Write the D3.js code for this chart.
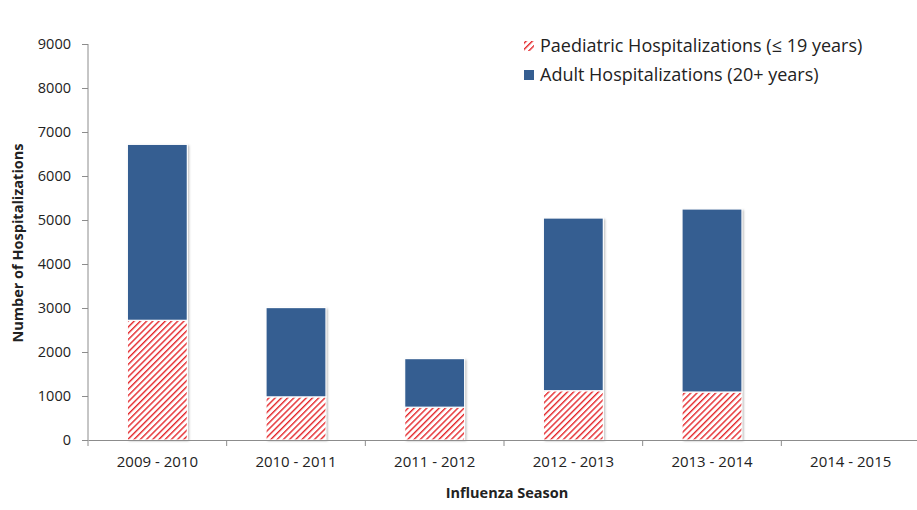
<!DOCTYPE html>
<html>
<head>
<meta charset="utf-8">
<script src="https://cdn.jsdelivr.net/npm/d3@7"></script>
<style>
  body { margin: 0; background: #fff; }
  text { font-family: "Open Sans", "Liberation Sans", sans-serif; }
</style>
</head>
<body>
<svg id="mainSvg" width="917" height="510"></svg>
<script>
var seasons = ["2009 - 2010", "2010 - 2011", "2011 - 2012", "2012 - 2013", "2013 - 2014", "2014 - 2015"];
var paediatric = [2720, 980, 745, 1120, 1090, 0];
var adult = [4000, 2030, 1105, 3925, 4160, 0];
var yTicks = [0, 1000, 2000, 3000, 4000, 5000, 6000, 7000, 8000, 9000];
var seriesNames = ["Paediatric Hospitalizations (\u2264 19 years)", "Adult Hospitalizations (20+ years)"];

var svg = d3.select("#mainSvg");
var adultColor = "#355e91";
var hatchColor = "#e4272b";
var axisColor = "#8c8c8c";

var defs = svg.append("defs");
var pat = defs.append("pattern")
    .attr("id", "hatch")
    .attr("patternUnits", "userSpaceOnUse")
    .attr("width", 4.4)
    .attr("height", 4.4)
    .attr("patternTransform", "rotate(45)");
pat.append("rect").attr("width", 4.4).attr("height", 4.4).attr("fill", "white");
pat.append("line")
    .attr("x1", 0).attr("y1", 0).attr("x2", 0).attr("y2", 4.4)
    .attr("stroke", hatchColor)
    .attr("stroke-width", 2.8);

var shadow = defs.append("filter").attr("id", "barShadow")
    .attr("x", "-10%").attr("y", "-10%").attr("width", "130%").attr("height", "130%");
shadow.append("feDropShadow")
    .attr("dx", 1.5).attr("dy", 1)
    .attr("stdDeviation", 0.8)
    .attr("flood-color", "#000")
    .attr("flood-opacity", 0.3);

var x = d3.scaleBand()
    .domain(seasons)
    .range([88, 920])
    .paddingInner(0)
    .paddingOuter(0);

var y = d3.scaleLinear()
    .domain([0, 9000])
    .range([440, 44]);

var barW = 60;

// stacked data
var rows = seasons.map(function(s, i){
    return { season: s, paediatric: paediatric[i], adult: adult[i] };
});
var stack = d3.stack().keys(["paediatric", "adult"])(rows);

var barGroup = svg.append("g").attr("class", "bars");

barGroup.selectAll(".barShadowRect")
    .data(rows)
    .enter()
    .append("rect")
    .attr("x", function(d){ return x(d.season) + (x.bandwidth() - barW) / 2; })
    .attr("y", function(d){ return y(d.paediatric + d.adult); })
    .attr("width", barW)
    .attr("height", function(d){ return y(0) - y(d.paediatric + d.adult); })
    .attr("fill", "white")
    .attr("filter", function(d){ return (d.paediatric + d.adult) > 0 ? "url(#barShadow)" : null; });

stack.forEach(function(layer, li){
    barGroup.selectAll(".layer" + li)
        .data(layer)
        .enter()
        .append("rect")
        .attr("class", "layer" + li)
        .attr("x", function(d){ return x(d.data.season) + (x.bandwidth() - barW) / 2; })
        .attr("y", function(d){ return y(d[1]); })
        .attr("width", barW)
        .attr("height", function(d){ return y(d[0]) - y(d[1]); })
        .attr("fill", li == 0 ? "url(#hatch)" : adultColor)
        .attr("stroke", "white")
        .attr("stroke-width", 1.2);
});

// y axis
var yAxis = svg.append("g")
    .attr("transform", "translate(88,0)")
    .call(d3.axisLeft(y).tickValues(yTicks).tickSize(6).tickPadding(11).tickFormat(d3.format("d")));
yAxis.select(".domain").attr("stroke", axisColor).attr("d", "M0,44V440");
yAxis.selectAll(".tick line").attr("stroke", axisColor);
yAxis.selectAll(".tick text")
    .attr("fill", "#222")
    .attr("font-size", "14.5px")
    .style("font-family", "'Open Sans', sans-serif");

// x axis
var xAxis = svg.append("g")
    .attr("transform", "translate(0,440)")
    .call(d3.axisBottom(x).tickSize(0).tickPadding(16));
xAxis.select(".domain").attr("stroke", axisColor);
xAxis.selectAll(".tick text")
    .attr("fill", "#222")
    .attr("font-size", "15px")
    .style("font-family", "'Open Sans', sans-serif");

// boundary ticks between categories
xAxis.selectAll(".boundTick")
    .data(seasons)
    .enter()
    .append("line")
    .attr("x1", function(d){ return x(d); })
    .attr("x2", function(d){ return x(d); })
    .attr("y1", 0)
    .attr("y2", 6)
    .attr("stroke", axisColor);

// axis titles
svg.append("text")
    .attr("x", 507)
    .attr("y", 498)
    .attr("text-anchor", "middle")
    .attr("font-size", "14.5px")
    .attr("font-weight", "bold")
    .attr("fill", "#222")
    .text("Influenza Season");

svg.append("text")
    .attr("transform", "translate(23,243) rotate(-90)")
    .attr("text-anchor", "middle")
    .attr("font-size", "14.5px")
    .attr("font-weight", "bold")
    .attr("fill", "#222")
    .text("Number of Hospitalizations");

// legend
var legend = svg.append("g").attr("transform", "translate(524,36)");
var legendItems = legend.selectAll(".legendItem")
    .data(seriesNames)
    .enter()
    .append("g")
    .attr("transform", function(d, i){ return "translate(0," + (i * 29) + ")"; });

legendItems.append("rect")
    .attr("x", 0)
    .attr("y", 5)
    .attr("width", 10)
    .attr("height", 10)
    .attr("fill", function(d, i){ return i == 0 ? "url(#hatch)" : adultColor; });

legendItems.append("text")
    .attr("x", 16)
    .attr("y", 10)
    .attr("dy", "0.35em")
    .attr("font-size", "18px")
    .attr("fill", "#222")
    .text(function(d){ return d; });
</script>
</body>
</html>
